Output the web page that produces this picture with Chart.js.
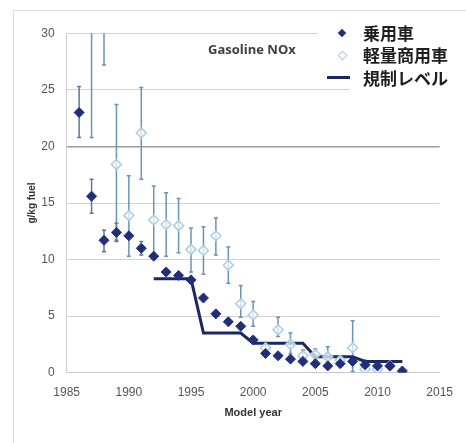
<!DOCTYPE html>
<html>
<head>
<meta charset="utf-8">
<title>Gasoline NOx</title>
<script src="https://cdn.jsdelivr.net/npm/chart.js@4/dist/chart.umd.min.js"></script>
<style>
	body { margin: 0; background: #fff; }
	#wrap { position: relative; width: 466px; height: 443px; overflow: hidden; }
	#frame { position: absolute; left: 13px; top: 10px; right: -2px; bottom: -2px; border-top: 1px solid #dcdcdc; border-left: 1px solid #dcdcdc; }
	canvas { position: absolute; left: 0; top: 0; }
	.cover { position: absolute; background: #fff; }
	.note { position: absolute; left: 208px; top: 40px; font: bold 13px "Open Sans", sans-serif; color: #404040; white-space: nowrap; }
	.lg { position: absolute; left: 363px; font: bold 17px "Noto Sans CJK JP", sans-serif; color: #1e1e1e; line-height: 20px; white-space: nowrap; }
	.dia { position: absolute; width: 6px; height: 6px; transform: rotate(45deg); }
</style>
</head>
<body>
<div id="wrap">
	<div id="frame"></div>
	<canvas id="noxChart" width="466" height="443"></canvas>
	<div class="cover" style="left:318px;top:20px;width:148px;height:64px"></div>
	<div class="cover" style="left:350px;top:84px;width:116px;height:12px"></div>
	<div class="note">Gasoline NOx</div>
	<div class="dia" style="left:339px;top:30px;background:#1f2f7e"></div>
	<div class="lg" style="top:23px">乗用車</div>
	<div class="dia" style="left:339px;top:52px;background:#fff;border:1px solid #a9cde6;width:5px;height:5px"></div>
	<div class="lg" style="top:45px">軽量商用車</div>
	<div style="position:absolute;left:327px;top:76px;width:23px;height:3px;background:#1c2860"></div>
	<div class="lg" style="top:68px">規制レベル</div>
</div>
<script>
	'use strict'

	// 乗用車 (passenger cars)
	var carYears = [1986, 1987, 1988, 1989, 1990, 1991, 1992, 1993, 1994, 1995, 1996, 1997, 1998, 1999, 2000, 2001, 2002, 2003, 2004, 2005, 2006, 2007, 2008, 2009, 2010, 2011, 2012];
	var carNox   = [23.0, 15.6, 11.7, 12.4, 12.1, 11.0, 10.3, 8.9, 8.6, 8.2, 6.6, 5.2, 4.5, 4.1, 2.9, 1.7, 1.5, 1.2, 1.0, 0.8, 0.6, 0.8, 1.0, 0.7, 0.6, 0.6, 0.15];
	var carLow   = [20.8, 14.1, 10.7, 11.6, null, 10.4, null, null, null, null, null, null, null, null, null, null, null, null, null, null, null, null, null, null, null, null, null];
	var carHigh  = [25.3, 17.1, 12.6, 13.2, null, 11.6, null, null, null, null, null, null, null, null, null, null, null, null, null, null, null, null, null, null, null, null, null];

	// 軽量商用車 (light commercial vehicles)
	var lcvYears = [1987, 1988, 1989, 1990, 1991, 1992, 1993, 1994, 1995, 1996, 1997, 1998, 1999, 2000, 2001, 2002, 2003, 2004, 2005, 2006, 2007, 2008, 2009, 2010, 2011];
	var lcvNox   = [31.0, 34.0, 18.4, 13.9, 21.2, 13.5, 13.1, 13.0, 10.9, 10.8, 12.1, 9.5, 6.1, 5.1, 2.2, 3.8, 2.5, 1.5, 1.6, 1.4, 1.1, 2.2, 0.3, 0.3, 0.6];
	var lcvLow   = [20.8, 27.2, 11.7, 10.3, 17.1, 10.4, 10.3, 10.6, 8.9, 8.7, 10.4, 7.9, 4.9, 4.1, 1.8, 3.2, 1.7, 1.1, 1.2, 0.6, 0.7, 0.1, 0.0, 0.0, 0.3];
	var lcvHigh  = [41.0, 40.0, 23.7, 17.4, 25.2, 16.5, 15.9, 15.4, 12.8, 12.9, 13.7, 11.1, 7.7, 6.3, 2.6, 4.9, 3.5, 2.0, 2.1, 2.3, 1.5, 4.6, 1.1, 0.8, 0.9];

	// 規制レベル (regulation level)
	var regYears = [1992, 1993, 1994, 1995, 1996, 1997, 1998, 1999, 2000, 2001, 2002, 2003, 2004, 2005, 2006, 2007, 2008, 2009, 2010, 2011, 2012];
	var regNox   = [8.3, 8.3, 8.3, 8.3, 3.5, 3.5, 3.5, 3.5, 2.6, 2.6, 2.6, 2.6, 2.6, 1.4, 1.4, 1.4, 1.4, 1.0, 1.0, 1.0, 1.0];

	var xTicks = [1985, 1990, 1995, 2000, 2005, 2010, 2015];
	var yTicks = [0, 5, 10, 15, 20, 25, 30];

	function pts(xs, ys) {
		return xs.map(function (x, i) { return { x: x, y: ys[i] }; });
	}

	/*--error bars, drawn under the markers--*/
	var errorBars = {
		id: 'errorBars',
		beforeDatasetsDraw: function (chart) {
			var c = chart.ctx, a = chart.chartArea;
			var xs = chart.scales.x, ys = chart.scales.y;
			var sets = [
				{ years: lcvYears, low: lcvLow, high: lcvHigh, color: '#6794b8' },
				{ years: carYears, low: carLow, high: carHigh, color: '#5b7899' }
			];
			c.save();
			c.beginPath();
			c.rect(a.left, a.top, a.right - a.left, a.bottom - a.top);
			c.clip();
			sets.forEach(function (s) {
				c.strokeStyle = s.color;
				c.lineWidth = 1.5;
				s.years.forEach(function (yr, i) {
					if (s.low[i] === null) return;
					var px = xs.getPixelForValue(yr);
					var y1 = ys.getPixelForValue(s.low[i]);
					var y2 = ys.getPixelForValue(s.high[i]);
					c.beginPath();
					c.moveTo(px, y1); c.lineTo(px, y2);
					c.moveTo(px - 2, y1); c.lineTo(px + 2, y1);
					c.moveTo(px - 2, y2); c.lineTo(px + 2, y2);
					c.stroke();
				});
			});
			c.restore();
		}
	};

	var tickFont = { family: 'Liberation Sans', size: 12 };
	var titleFont = { family: 'Liberation Sans', size: 11, weight: 'bold' };

	new Chart(document.getElementById('noxChart'), {
		type: 'scatter',
		data: {
			datasets: [{
				label: '乗用車',
				data: pts(carYears, carNox),
				pointStyle: 'rectRot',
				pointRadius: 5,
				backgroundColor: '#1f2f7e',
				borderColor: '#1f2f7e',
				borderWidth: 1
			}, {
				label: '軽量商用車',
				data: pts(lcvYears, lcvNox),
				pointStyle: 'rectRot',
				pointRadius: 5,
				backgroundColor: 'rgba(255,255,255,0.7)',
				borderColor: '#a9cde6',
				borderWidth: 1.5
			}, {
				label: '規制レベル',
				type: 'line',
				data: pts(regYears, regNox),
				borderColor: '#1c2860',
				borderWidth: 3,
				pointRadius: 0,
				fill: false,
				tension: 0
			}]
		},
		options: {
			responsive: false,
			animation: false,
			devicePixelRatio: 1,
			layout: {
				padding: { left: 22, right: 19.3, top: 33.3, bottom: 19.3 }
			},
			plugins: {
				legend: { display: false },
				tooltip: { enabled: false }
			},
			scales: {
				x: {
					type: 'linear',
					min: 1985,
					max: 2015,
					afterBuildTicks: function (scale) {
						scale.ticks = xTicks.map(function (v) { return { value: v }; });
					},
					afterFit: function (scale) { scale.height = 51; },
					grid: { display: false, drawTicks: false },
					border: { display: true, color: '#c8c8c8' },
					ticks: {
						font: tickFont,
						color: '#555',
						padding: 13,
						maxRotation: 0,
						callback: function (v) { return String(v); }
					},
					title: {
						display: true,
						text: 'Model year',
						font: titleFont,
						color: '#333'
					}
				},
				y: {
					min: 0,
					max: 30,
					afterBuildTicks: function (scale) {
						scale.ticks = yTicks.map(function (v) { return { value: v }; });
					},
					afterFit: function (scale) { scale.width = 44.7; },
					grid: {
						drawTicks: false,
						color: function (ctx) { return ctx.tick && ctx.tick.value === 20 ? '#9c9c9c' : '#d2d2d2'; },
						lineWidth: function (ctx) { return ctx.tick && ctx.tick.value === 20 ? 1.5 : 1; }
					},
					border: { display: true, color: '#cfcfcf' },
					ticks: {
						font: tickFont,
						color: '#555',
						padding: 12
					},
					title: {
						display: true,
						text: 'g/kg fuel',
						font: { family: 'Liberation Sans', size: 10, weight: 'bold' },
						color: '#333'
					}
				}
			}
		},
		plugins: [errorBars]
	});
</script>
</body>
</html>
